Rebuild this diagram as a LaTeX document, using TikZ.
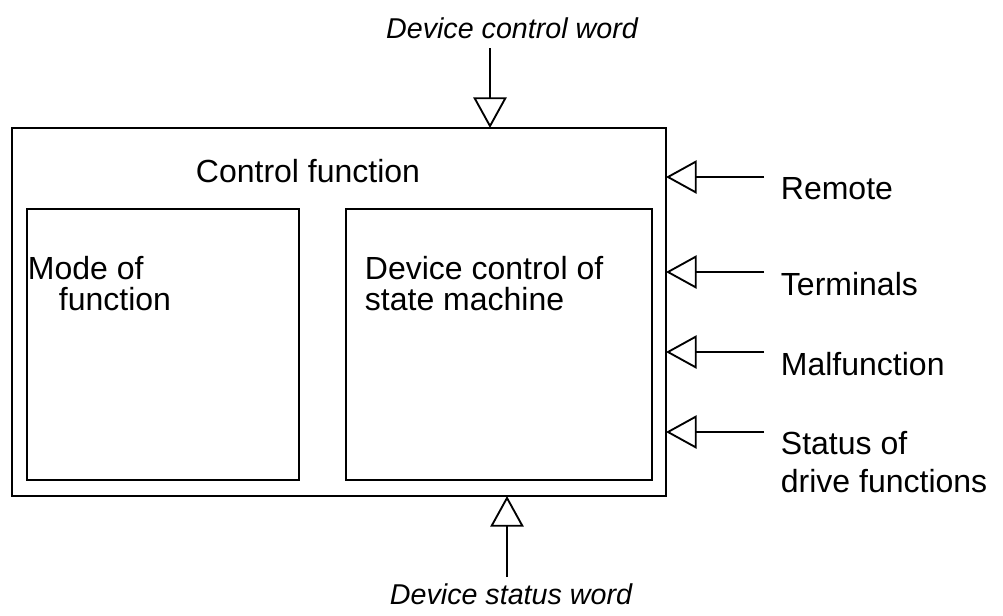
\documentclass[tikz,border=0pt]{standalone}
\usepackage{fontspec}
\setmainfont{Liberation Sans}
\usetikzlibrary{arrows.meta}

\begin{document}
\begin{tikzpicture}[x=0.75pt, y=-0.75pt, line width=1.4pt,
        box/.style={draw, rectangle, inner sep=0, outer sep=0},
        inarrow/.style={-{Triangle[open, length=23pt, width=25pt, line width=1.4pt]}},
        lbl/.style={anchor=base west, inner sep=0, font=\fontsize{24}{29}\selectfont},
        sig/.style={anchor=base, inner sep=0, font=\fontsize{21.5}{26}\selectfont\itshape}]
    \useasboundingbox (0,0) rectangle (1003,615);

    % boxes
    \node[box, minimum width=490.5pt, minimum height=276pt] (ctrl) at (339,312) {};
    \node[box, minimum width=204pt, minimum height=203pt] (mode) at (163,344.5) {};
    \node[box, minimum width=229.5pt, minimum height=203pt] (dev) at (499,344.5) {};

    \node[anchor=base, inner sep=0, font=\fontsize{24}{29}\selectfont] (ctrltxt) at (308,182) {Control function};
    \node[lbl] (mode1) at (27,279) {Mode of};
    \node[lbl] (mode2) at (58,310) {function};
    \node[lbl] (dev1) at (364,279) {Device control of};
    \node[lbl] (dev2) at (364,310) {state machine};

    % device control / status words
    \node[sig] (dcw) at (512,38) {Device control word};
    \coordinate (dcwend) at (490,48);
    \draw[inarrow] (dcwend) -- (dcwend |- ctrl.north);

    \node[sig] (dsw) at (511,604) {Device status word};
    \coordinate (dswend) at (507,577);
    \draw[inarrow] (dswend) -- (dswend |- ctrl.south);

    % inputs on the right
    \foreach \name/\y/\ty/\txt in {rem/177/199/Remote, term/272/295/Terminals, malf/352/375/Malfunction, stat/432/454/Status of} {
        \coordinate (\name) at (764,\y);
        \draw[inarrow] (\name) -- (\name -| ctrl.east);
        \node[lbl] (\name txt) at (780,\ty) {\txt};
    }
    \node[lbl] (stat2) at (780,492) {drive functions};
\end{tikzpicture}
\end{document}
